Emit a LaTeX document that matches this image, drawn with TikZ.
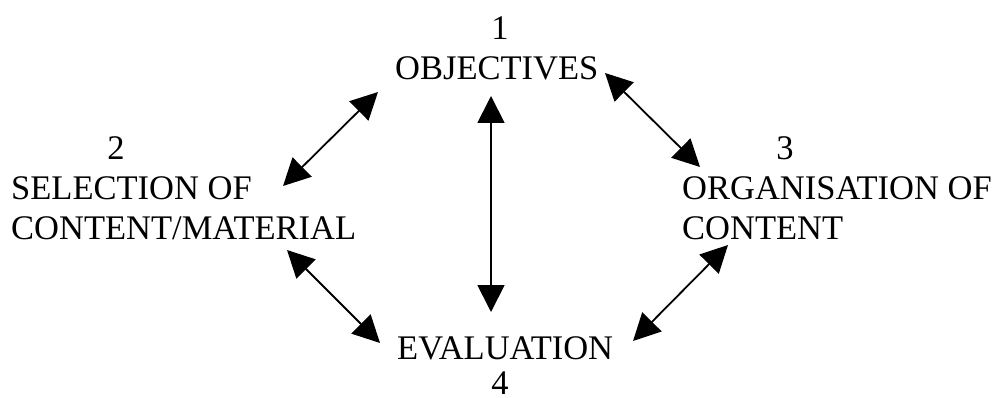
\documentclass[tikz,border=0pt]{standalone}
\usepackage{fontspec}
\setmainfont{Liberation Serif}
\usepackage{tikz}
\usetikzlibrary{arrows.meta, positioning}

\begin{document}
\begin{tikzpicture}[
  x=1pt, y=1pt,
  lbl/.style={inner sep=0pt, font=\fontsize{34.5}{40}\selectfont},
  arr/.style={{Triangle[length=27pt, width=27pt]}-{Triangle[length=27pt, width=27pt]}, line width=1.8pt}
]
\useasboundingbox (0,0) rectangle (998,397);

% stages
\node[lbl, anchor=base] (num1) at (500,357) {1};
\node[lbl, anchor=base west] (obj) at (395,317) {OBJECTIVES};
\node[lbl, anchor=base] (num2) at (116,237) {2};
\node[lbl, anchor=base west, align=left] (sel) at (11,158) {SELECTION OF\\CONTENT/MATERIAL};
\node[lbl, anchor=base] (num3) at (785,237) {3};
\node[lbl, anchor=base west, align=left] (org) at (682,158) {ORGANISATION OF\\CONTENT};
\node[lbl, anchor=base west] (eva) at (397,38) {EVALUATION};
\node[lbl, anchor=base] (num4) at (500,3) {4};

% arrow ends
\coordinate (selA) at (283,211);
\coordinate (objA) at (378,305);
\coordinate (objB) at (491,301);
\coordinate (evaB) at (491,85);
\coordinate (objC) at (605,324);
\coordinate (orgC) at (700,230);
\coordinate (selD) at (287,147);
\coordinate (evaD) at (380,54);
\coordinate (orgE) at (728,152);
\coordinate (evaE) at (633,56);

\draw[arr] (selA) -- (objA);
\draw[arr] (objB) -- (evaB);
\draw[arr] (objC) -- (orgC);
\draw[arr] (selD) -- (evaD);
\draw[arr] (orgE) -- (evaE);
\end{tikzpicture}
\end{document}
